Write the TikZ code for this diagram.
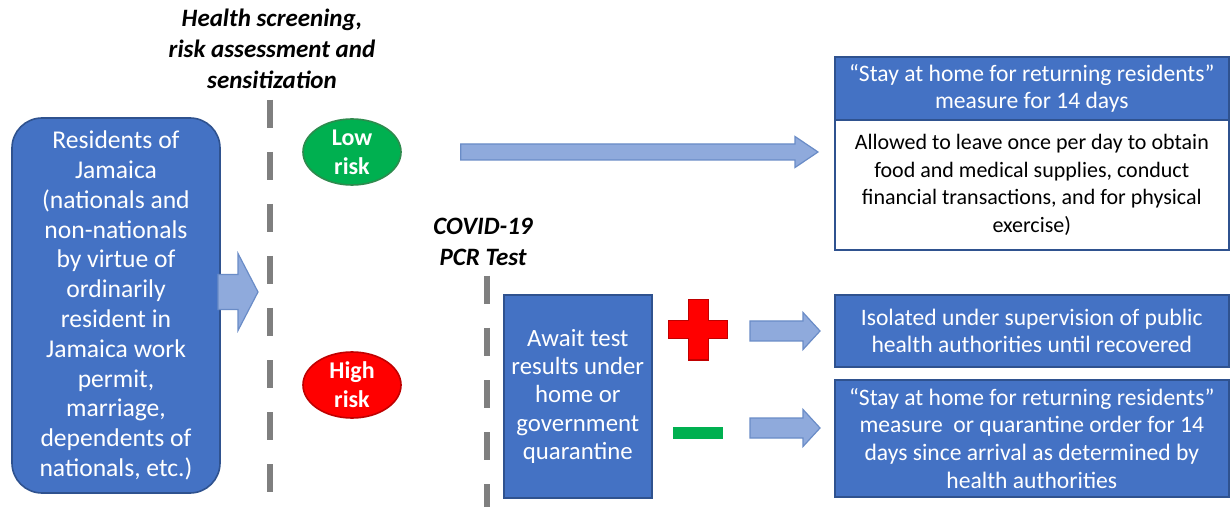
\documentclass[tikz,border=0pt]{standalone}
\usepackage{fontspec}
\setmainfont{Carlito}
\usetikzlibrary{calc,shapes.geometric}

\definecolor{boxblue}{HTML}{4472C4}
\definecolor{boxline}{HTML}{2F528F}
\definecolor{arrowblue}{HTML}{8FAADC}
\definecolor{arrowline}{HTML}{6A8CC7}
\definecolor{lowgreen}{HTML}{00B050}
\definecolor{lowline}{HTML}{2E8B4E}
\definecolor{highred}{HTML}{FF0000}
\definecolor{highline}{HTML}{C00000}
\definecolor{dashgray}{HTML}{7F7F7F}

\tikzset{
  bluebox/.style={draw=boxline, fill=boxblue, text=white, align=center, inner sep=0pt,
    line width=0.8pt, font=\fontsize{11.8}{13.8}\selectfont},
  whitebox/.style={bluebox, fill=white, text=black, font=\fontsize{11}{13.8}\selectfont},
  heading/.style={align=center, inner sep=0pt, font=\fontsize{12.5}{15.5}\selectfont\bfseries\itshape},
  riskshape/.style={ellipse, minimum width=49pt, minimum height=33pt, inner sep=0pt, line width=0.8pt},
  risktext/.style={align=center, text=white, inner sep=0pt, font=\fontsize{12}{14.5}\selectfont\bfseries},
  dashline/.style={draw=dashgray, line width=3pt, dash pattern=on 14pt off 12pt},
  fatarrow/.style={fill=arrowblue, draw=arrowline, line width=0.6pt},
}

% block arrow: start, tip, body half width, head half width, head length
\newcommand{\fatarrow}[5]{%
  \draw[fatarrow] let \p1=(#1), \p2=(#2) in
    ({\x1},{\y1+#3}) -- ({\x2-#5},{\y1+#3}) -- ({\x2-#5},{\y1+#4}) -- ({\x2},{\y1})
    -- ({\x2-#5},{\y1-#4}) -- ({\x2-#5},{\y1-#3}) -- ({\x1},{\y1-#3}) -- cycle;}

\begin{document}
\begin{tikzpicture}[x=0.5pt,y=-0.5pt]
\useasboundingbox[fill=white] (0,0) rectangle (1230,507);

% labels over the dashed lines
\node[heading] (screenlbl) at (272,49) {Health screening,\\risk assessment and\\sensitization};
\node[heading] (pcrlbl) at (483,242) {COVID-19\\PCR Test};

\draw[dashline] (270,100) -- (270,493);
\draw[dashline] (487,276) -- (487,507);

% residents
\node[bluebox, rounded corners=15pt, minimum width=104pt, minimum height=187.5pt,
  font=\fontsize{12.8}{14.9}\selectfont] (res) at (116,305.5)
  {Residents of\\Jamaica\\(nationals and\\non-nationals\\by virtue of\\ordinarily\\resident in\\Jamaica work\\permit,\\marriage,\\dependents of\\nationals, etc.)};

% risk groups
\node[riskshape, fill=lowgreen, draw=lowline] (low) at (352,152) {};
\node[risktext] (lowtxt) at (low) {Low\\risk};
\node[riskshape, fill=highred, draw=highline] (high) at (352,385) {};
\node[risktext] (hightxt) at (high) {High\\risk};

% test and results
\node[bluebox, anchor=north west, minimum width=74pt, minimum height=101.5pt,
  font=\fontsize{12.4}{14.2}\selectfont] (await) at (503,294)
  {Await test\\results under\\home or\\government\\quarantine};
\coordinate (plus) at (698,330);
\filldraw[fill=highred, draw=highline, line width=0.5pt] (plus) ++(-10,-30) -- ++(20,0) -- ++(0,21)
  -- ++(19,0) -- ++(0,18) -- ++(-19,0) -- ++(0,21) -- ++(-20,0) -- ++(0,-21)
  -- ++(-20,0) -- ++(0,-18) -- ++(20,0) -- cycle;
\node[fill=lowgreen, minimum width=25pt, minimum height=6pt, inner sep=0pt] (minus) at (698,433) {};

% outcomes
\node[bluebox, anchor=north west, minimum width=197pt, minimum height=31.5pt] (stayhead) at (834,56)
  {“Stay at home for returning residents”\\measure for 14 days};
\node[whitebox, anchor=north west, minimum width=197pt, minimum height=65pt] (staybody) at (834,119)
  {Allowed to leave once per day to obtain\\food and medical supplies, conduct\\financial transactions, and for physical\\exercise)};
\node[bluebox, anchor=north west, minimum width=197pt, minimum height=36pt] (isolated) at (834,294)
  {Isolated under supervision of public\\health authorities until recovered};
\node[bluebox, anchor=north west, minimum width=197pt, minimum height=58.5pt] (negstay) at (834,379)
  {“Stay at home for returning residents”\\measure\ \ or quarantine order for 14\\days since arrival as determined by\\health authorities};

% block arrows
\coordinate (resout) at (218,292);
\coordinate (resin) at (258,292);
\fatarrow{resout}{resin}{8.75pt}{19.25pt}{10pt}
\coordinate (lowout) at ($(low.east)+(59,0)$);
\coordinate (lowin) at ($(low.east -| staybody.west)+(-16,0)$);
\fatarrow{lowout}{lowin}{4pt}{7.75pt}{11.5pt}
\coordinate (plusout) at (750,331);
\coordinate (plusin) at ($(plusout -| isolated.west)+(-14,0)$);
\fatarrow{plusout}{plusin}{5pt}{9.25pt}{8.5pt}
\coordinate (minusout) at (750,428);
\coordinate (minusin) at ($(minusout -| negstay.west)+(-14,0)$);
\fatarrow{minusout}{minusin}{5pt}{9.25pt}{8.5pt}
\end{tikzpicture}
\end{document}
